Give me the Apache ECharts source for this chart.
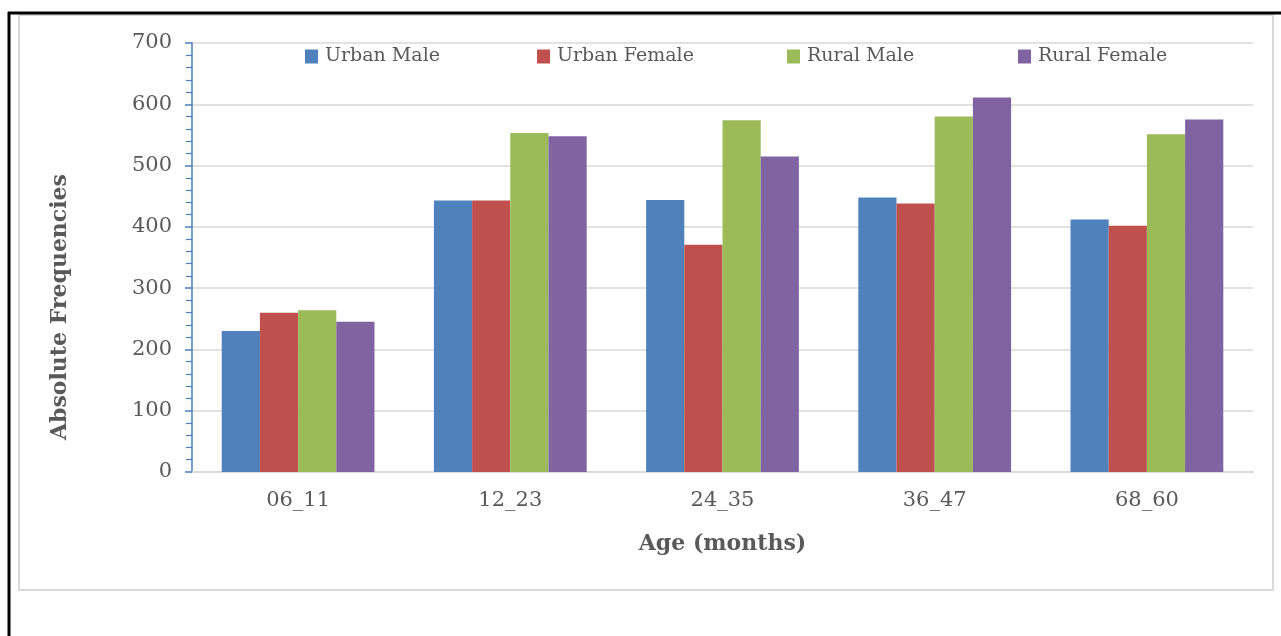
<!DOCTYPE html>
<html>
<head>
<meta charset="utf-8">
<script src="https://cdn.jsdelivr.net/npm/echarts@6/dist/echarts.min.js"></script>
<style>
  html, body { margin: 0; padding: 0; background: #fff; }
  #chart { width: 1281px; height: 636px; }
</style>
</head>
<body>
<div id="chart"></div>
<script>
// Age groups and counts per group
const categories = ['06_11', '12_23', '24_35', '36_47', '68_60'];
const urbanMale   = [230, 443, 444, 448, 412];
const urbanFemale = [260, 443, 371, 438, 402];
const ruralMale   = [264, 553, 574, 580, 551];
const ruralFemale = [245, 548, 515, 611, 575];
const seriesNames = ['Urban Male', 'Urban Female', 'Rural Male', 'Rural Female'];
const seriesData = [urbanMale, urbanFemale, ruralMale, ruralFemale];
const colors = ['#4f81bd', '#c0504d', '#9bbb59', '#8064a2'];
const legendLeft = [300, 532, 782, 1013];

const FONT = '"DejaVu Serif", "Liberation Serif", serif';
const TEXT = '#595959';

const chart = echarts.init(document.getElementById('chart'));

chart.setOption({
  backgroundColor: '#ffffff',
  animation: false,
  color: colors,
  textStyle: { fontFamily: FONT, color: TEXT },
  graphic: [
    { type: 'rect', shape: { x: 19, y: 15, width: 1254, height: 575 },
      style: { fill: 'none', stroke: '#d9d9d9', lineWidth: 2 }, z: -1 },
    { type: 'line', shape: { x1: 8, y1: 13, x2: 1281, y2: 13 },
      style: { stroke: '#000', lineWidth: 3 } },
    { type: 'line', shape: { x1: 9, y1: 12, x2: 9, y2: 636 },
      style: { stroke: '#000', lineWidth: 3 } },
    // vertical axis title
    { type: 'text', x: 60, y: 307, rotation: Math.PI / 2,
      style: { text: 'Absolute Frequencies', fontFamily: FONT, fontSize: 22,
               fontWeight: 'bold', fill: TEXT, align: 'center', verticalAlign: 'middle' } }
  ],
  legend: seriesNames.map((n, i) => ({
    data: [n],
    left: legendLeft[i],
    top: 42,
    icon: 'rect',
    itemWidth: 13,
    itemHeight: 14,
    itemGap: 4,
    textStyle: { fontFamily: FONT, fontSize: 19, color: TEXT, padding: [0, 0, 0, 2] }
  })),
  grid: { left: 192, right: 28, top: 43, bottom: 164, containLabel: false },
  xAxis: {
    type: 'category',
    data: categories,
    name: 'Age (months)',
    nameLocation: 'middle',
    nameGap: 61,
    nameTextStyle: { fontFamily: FONT, fontSize: 22, fontWeight: 'bold', color: TEXT },
    axisLine: { lineStyle: { color: '#d9d9d9', width: 1.5 } },
    axisTick: { show: false },
    axisLabel: { fontFamily: FONT, fontSize: 21, color: TEXT, margin: 18 }
  },
  yAxis: {
    type: 'value',
    min: 0,
    max: 700,
    interval: 100,
    axisLine: { show: true, lineStyle: { color: '#4a7ebb', width: 1.5 } },
    axisTick: { show: true, inside: false, length: 7, lineStyle: { color: '#4a7ebb', width: 1.5 } },
    minorTick: { show: true, splitNumber: 5, length: 6, lineStyle: { color: '#4a7ebb', width: 1.2 } },
    axisLabel: { fontFamily: FONT, fontSize: 21, color: TEXT, margin: 20 },
    splitLine: { show: true, lineStyle: { color: '#d9d9d9', width: 1.5 } }
  },
  series: seriesNames.map((n, i) => ({
    name: n,
    type: 'bar',
    data: seriesData[i],
    barGap: '0%',
    barCategoryGap: '28%',
    itemStyle: { color: colors[i] }
  }))
});
</script>
</body>
</html>
